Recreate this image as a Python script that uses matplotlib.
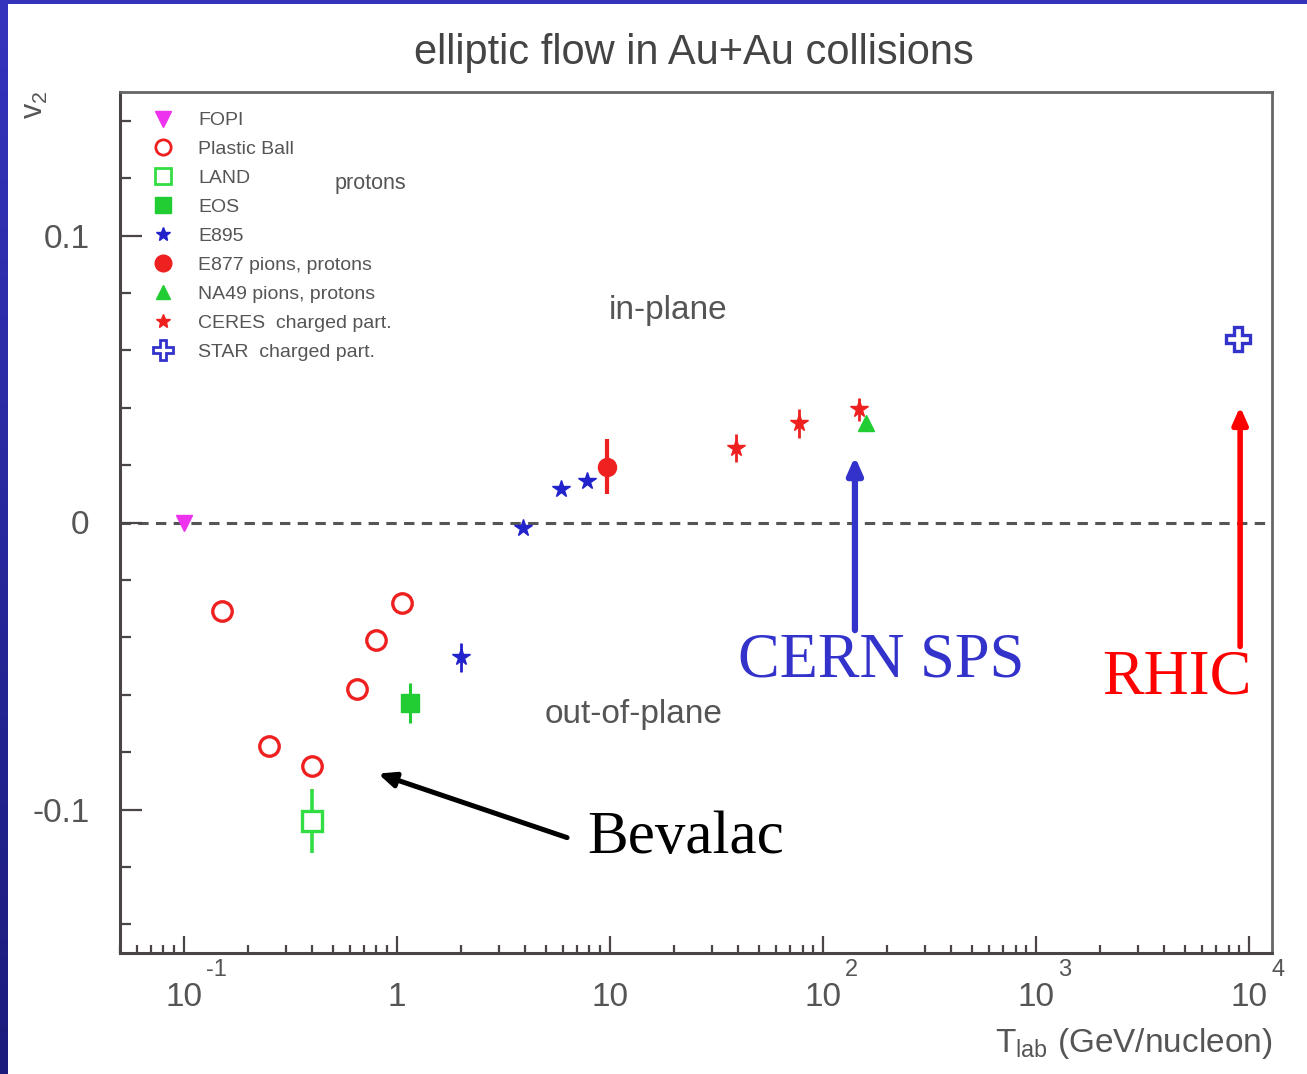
import numpy as np
import matplotlib
matplotlib.use('Agg')
import matplotlib.pyplot as plt
from matplotlib.lines import Line2D
from matplotlib.ticker import FixedLocator, LogLocator, NullFormatter

plt.rcParams['font.family'] = ['Liberation Sans', 'DejaVu Sans']
plt.rcParams['mathtext.fontset'] = 'custom'
plt.rcParams['mathtext.rm'] = 'Liberation Sans'
plt.rcParams['mathtext.it'] = 'Liberation Sans:italic'

# v2 vs beam energy (GeV/nucleon)
fopi_x = [0.1]
fopi_y = [0.0]
pb_x = [0.15, 0.25, 0.4, 0.65, 0.8, 1.05]
pb_y = [-0.031, -0.078, -0.085, -0.058, -0.041, -0.028]
land_x = [0.4]
land_y = [-0.104]
land_err = [0.011]
eos_x = [1.15]
eos_y = [-0.063]
eos_err = [0.007]
e895_x = [2.0, 3.9, 5.9, 7.8]
e895_y = [-0.047, -0.002, 0.0115, 0.0146]
e895_err = [0.005, 0.0, 0.0, 0.0]
e877_x = [9.7]
e877_y = [0.0195]
e877_err = [0.0095]
ceres_x = [39, 77, 147]
ceres_y = [0.026, 0.0345, 0.0395]
ceres_err = [0.005, 0.005, 0.004]
na49_x = [159]
na49_y = [0.0345]
star_x = [8900]
star_y = [0.064]

decades = [0.1, 1, 10, 100, 1000, 10000]
decade_base = ['10', '1', '10', '10', '10', '10']
decade_exp = ['-1', '', '', '2', '3', '4']

RED = '#ee2020'
GREEN = '#22cc33'
BLUE = '#2222cc'
MAG = '#ee33ee'
TXT = '#555555'

fig = plt.figure(figsize=(13.07, 10.74), dpi=100)
ax = fig.add_axes([120 / 1307, 121 / 1074, 1152 / 1307, 861 / 1074])

ax.axhline(0, color='#555555', lw=2.2, dashes=(3.4, 2.4), zorder=1)

ax.plot(fopi_x, fopi_y, 'v', color=MAG, ms=12, zorder=3)
ax.plot(pb_x, pb_y, 'o', mfc='none', mec=RED, mew=2.4, ms=14, zorder=3)
ax.errorbar(land_x, land_y, yerr=land_err, fmt='s', mfc='white', mec='#33dd44',
            mew=2.4, ms=15, ecolor='#33dd44', elinewidth=2.6, capsize=0, zorder=3)
ax.errorbar(eos_x, eos_y, yerr=eos_err, fmt='s', color=GREEN, ms=13,
            elinewidth=2.2, capsize=0, zorder=3)
ax.errorbar(e895_x, e895_y, yerr=e895_err, fmt='*', color=BLUE, ms=13,
            elinewidth=2, capsize=0, zorder=3)
ax.errorbar(e877_x, e877_y, yerr=e877_err, fmt='o', color=RED, ms=13,
            elinewidth=3, capsize=0, zorder=3)
ax.errorbar(ceres_x, ceres_y, yerr=ceres_err, fmt='*', color=RED, ms=13,
            elinewidth=2, capsize=0, zorder=3)
ax.plot(na49_x, na49_y, '^', color=GREEN, ms=12, zorder=4)
ax.plot(star_x, star_y, 'P', mfc='white', mec='#3333cc', mew=2.4, ms=17, zorder=3)

ax.set_xscale('log')
ax.set_xlim(0.05, 12800)
ax.set_ylim(-0.15, 0.15)

# axes frame and ticks
for side in ['left', 'bottom']:
    ax.spines[side].set_color('#4a4444')
    ax.spines[side].set_linewidth(2.2)
for side in ['top', 'right']:
    ax.spines[side].set_color('#666666')
    ax.spines[side].set_linewidth(2.0)

ax.xaxis.set_major_locator(FixedLocator(decades))
ax.xaxis.set_minor_locator(LogLocator(base=10, subs=np.arange(2, 10)))
ax.xaxis.set_minor_formatter(NullFormatter())
ax.set_xticklabels(decade_base)
ax.set_yticks([-0.1, 0, 0.1])
ax.set_yticklabels(['-0.1', '0', '0.1'])
ax.yaxis.set_minor_locator(FixedLocator(np.arange(-0.14, 0.141, 0.02)))

ax.tick_params(which='both', direction='in', top=False, right=False,
               color='#4a4444', width=1.6, labelcolor=TXT)
ax.tick_params(axis='x', which='major', length=12, pad=21, labelsize=24)
ax.tick_params(axis='x', which='minor', length=6)
ax.tick_params(axis='y', which='major', length=16, pad=22, labelsize=24)
ax.tick_params(axis='y', which='minor', length=8)

for xv, ex in zip(decades, decade_exp):
    if ex:
        ax.text(xv * 1.27, -0.02, ex, transform=ax.get_xaxis_transform(),
                fontsize=17, color=TXT, ha='left', va='center')

ax.set_xlabel(r'T$_{\mathrm{lab}}$ (GeV/nucleon)', fontsize=24, color=TXT,
              ha='right', x=1.0, labelpad=9)
fig.text(35 / 1307, 1 - 105 / 1074, r'v$_2$', rotation=90, fontsize=22,
         color=TXT, ha='center', va='center')
fig.text(694 / 1307, 1 - 53 / 1074, 'elliptic flow in Au+Au collisions',
         fontsize=30, color='#444444', ha='center', va='center')

# legend
handles = [
    Line2D([], [], ls='none', marker='v', color=MAG, ms=11),
    Line2D([], [], ls='none', marker='o', mfc='none', mec=RED, mew=2, ms=11),
    Line2D([], [], ls='none', marker='s', mfc='white', mec='#33dd44', mew=2, ms=11),
    Line2D([], [], ls='none', marker='s', color=GREEN, ms=11),
    Line2D([], [], ls='none', marker='*', color=BLUE, ms=10),
    Line2D([], [], ls='none', marker='o', color=RED, ms=12),
    Line2D([], [], ls='none', marker='^', color=GREEN, ms=10),
    Line2D([], [], ls='none', marker='*', color=RED, ms=10),
    Line2D([], [], ls='none', marker='P', mfc='white', mec='#3333cc', mew=2, ms=14),
]
labels = ['FOPI', 'Plastic Ball', 'LAND', 'EOS', 'E895', 'E877 pions, protons',
          'NA49 pions, protons', 'CERES  charged part.', 'STAR  charged part.']
leg = ax.legend(handles, labels, loc='upper left', bbox_to_anchor=(0.029, 0.977),
                frameon=False, fontsize=14, borderpad=0, borderaxespad=0,
                handlelength=1.0, handletextpad=1.3, labelspacing=0.58)
for t in leg.get_texts():
    t.set_color(TXT)

ax.text(0.75, 0.118, 'protons', fontsize=15.5, color=TXT, ha='center', va='center')
ax.text(9.9, 0.074, 'in-plane', fontsize=24, color=TXT, ha='left', va='center')
ax.text(4.9, -0.067, 'out-of-plane', fontsize=24, color=TXT, ha='left', va='center')

# accelerator annotations
ax.annotate('', xy=(141, 0.023), xytext=(141, -0.0375),
            arrowprops=dict(arrowstyle='-|>,head_length=0.5,head_width=0.22',
                            mutation_scale=20, lw=4.5, color='#3333cc',
                            shrinkA=0, shrinkB=0))
ax.text(187, -0.0484, 'CERN SPS', fontsize=45, color='#3333cc',
        family='Liberation Serif', ha='center', va='center')
ax.annotate('', xy=(9070, 0.0404), xytext=(9070, -0.0432),
            arrowprops=dict(arrowstyle='-|>,head_length=0.5,head_width=0.22',
                            mutation_scale=20, lw=4, color='#ff0000',
                            shrinkA=0, shrinkB=0))
ax.text(4590, -0.0544, 'RHIC', fontsize=45, color='#ff0000',
        family='Liberation Serif', ha='center', va='center')
ax.annotate('', xy=(0.814, -0.0875), xytext=(6.28, -0.1098),
            arrowprops=dict(arrowstyle='-|>,head_length=0.5,head_width=0.22',
                            mutation_scale=20, lw=3.6, color='black',
                            shrinkA=0, shrinkB=0))
ax.text(7.8, -0.110, 'Bevalac', fontsize=44, color='black',
        family='Liberation Serif', ha='left', va='center')

# slide frame
grad = np.linspace(0, 1, 256).reshape(-1, 1)
edge = fig.add_axes([0, 0, 8 / 1307, 1])
edge.imshow(grad, aspect='auto', cmap=matplotlib.colors.LinearSegmentedColormap.from_list(
    'edge', ['#3434be', '#1c1c7c']), extent=(0, 1, 0, 1))
edge.set_axis_off()
top = fig.add_axes([0, 1 - 4 / 1074, 1, 4 / 1074])
top.set_facecolor('#3333bb')
top.set_xticks([])
top.set_yticks([])
for s in top.spines.values():
    s.set_visible(False)

fig.savefig('out.png', dpi=100)
